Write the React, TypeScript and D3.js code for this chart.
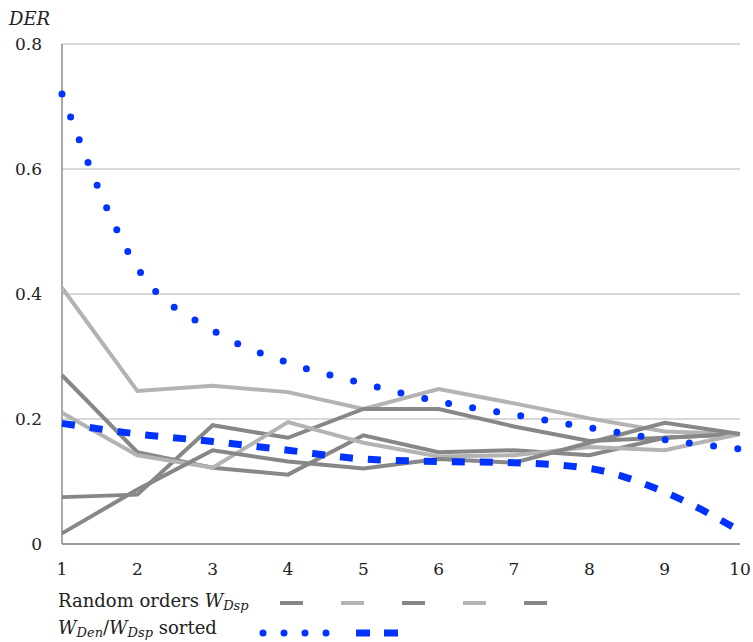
import React from "react";
import * as d3 from "d3";

// x positions (number of steps)
const steps = [1, 2, 3, 4, 5, 6, 7, 8, 9, 10];

// random orders W_Dsp (five runs)
const randomRun1 = [0.27, 0.147, 0.122, 0.111, 0.174, 0.147, 0.15, 0.142, 0.17, 0.176];
const randomRun2 = [0.41, 0.245, 0.253, 0.243, 0.216, 0.248, 0.225, 0.201, 0.18, 0.176];
const randomRun3 = [0.075, 0.079, 0.19, 0.17, 0.216, 0.216, 0.188, 0.165, 0.17, 0.176];
const randomRun4 = [0.21, 0.142, 0.122, 0.195, 0.162, 0.14, 0.142, 0.155, 0.15, 0.176];
const randomRun5 = [0.017, 0.087, 0.15, 0.132, 0.121, 0.136, 0.13, 0.162, 0.194, 0.176];

// sorted orders
const sortedDen = [0.72, 0.442, 0.342, 0.29, 0.257, 0.228, 0.207, 0.186, 0.167, 0.152];
const sortedDsp = [0.193, 0.176, 0.164, 0.15, 0.136, 0.132, 0.13, 0.121, 0.083, 0.021];

const yTicks = [0, 0.2, 0.4, 0.6, 0.8];
const yTickLabels = ["0", "0.2", "0.4", "0.6", "0.8"];
const xTickLabels = ["1", "2", "3", "4", "5", "6", "7", "8", "9", "10"];

const DARK = "#878787";
const LIGHT = "#b3b3b3";
const BLUE = "#0033ff";
const FONT = "'DejaVu Serif', serif";

const randomRuns = [
  { values: randomRun1, color: DARK },
  { values: randomRun2, color: LIGHT },
  { values: randomRun3, color: DARK },
  { values: randomRun4, color: LIGHT },
  { values: randomRun5, color: DARK },
];

export default function App() {
  const width = 753;
  const height = 642;

  const x = d3.scaleLinear().domain([1, 10]).range([62, 740]);
  const y = d3.scaleLinear().domain([0, 0.8]).range([544, 44]);

  const straight = d3
    .line<number>()
    .x((_, i) => x(steps[i]))
    .y((d) => y(d));

  const smooth = d3
    .line<number>()
    .x((_, i) => x(steps[i]))
    .y((d) => y(d))
    .curve(d3.curveMonotoneX);

  return (
    <svg
      width={width}
      height={height}
      style={{ position: "absolute", left: 0, top: 0, background: "#fff" }}
      fontFamily={FONT}
    >
      {/* grid */}
      {yTicks.slice(1).map((t) => (
        <line key={t} x1={x(1)} x2={x(10)} y1={y(t)} y2={y(t)} stroke={LIGHT} strokeWidth={1.2} />
      ))}
      {/* axes */}
      <line x1={x(1)} x2={x(1)} y1={y(0.8)} y2={y(0)} stroke="#7a7a7a" strokeWidth={1.3} />
      <line x1={x(1)} x2={x(10)} y1={y(0)} y2={y(0)} stroke="#7a7a7a" strokeWidth={1.3} />

      {yTicks.map((t, i) => (
        <text key={t} x={42} y={y(t) + 6} textAnchor="end" fontSize={17} fill="#222">
          {yTickLabels[i]}
        </text>
      ))}
      {steps.map((s, i) => (
        <text key={s} x={x(s)} y={575} textAnchor="middle" fontSize={17} fill="#222">
          {xTickLabels[i]}
        </text>
      ))}
      <text x={9} y={25} fontSize={18} fontStyle="italic" fill="#222">
        DER
      </text>

      {/* random orders */}
      {randomRuns.map((r, i) => (
        <path key={i} d={straight(r.values) ?? ""} fill="none" stroke={r.color} strokeWidth={4} />
      ))}

      {/* sorted */}
      <path
        d={smooth(sortedDsp) ?? ""}
        fill="none"
        stroke={BLUE}
        strokeWidth={7}
        strokeDasharray="13 15"
      />
      <path
        d={smooth(sortedDen) ?? ""}
        fill="none"
        stroke={BLUE}
        strokeWidth={7}
        strokeLinecap="round"
        strokeDasharray="0 24.4"
      />

      {/* legend */}
      <text x={58} y={607} fontSize={18} fill="#222">
        Random orders{" "}
        <tspan fontStyle="italic">W</tspan>
        <tspan fontStyle="italic" fontSize={13} dy={3}>
          Dsp
        </tspan>
      </text>
      {randomRuns.map((r, i) => (
        <line
          key={i}
          x1={280 + i * 61}
          x2={303 + i * 61}
          y1={603}
          y2={603}
          stroke={r.color}
          strokeWidth={4}
        />
      ))}
      <text x={58} y={634} fontSize={18} fill="#222">
        <tspan fontStyle="italic">W</tspan>
        <tspan fontStyle="italic" fontSize={13} dy={3}>
          Den
        </tspan>
        <tspan dy={-3}>/</tspan>
        <tspan fontStyle="italic">W</tspan>
        <tspan fontStyle="italic" fontSize={13} dy={3}>
          Dsp
        </tspan>
        <tspan dy={-3}> sorted</tspan>
      </text>
      <path
        d="M263,633 L330,633"
        fill="none"
        stroke={BLUE}
        strokeWidth={7}
        strokeLinecap="round"
        strokeDasharray="0 21"
      />
      <path d="M356,633 L398,633" fill="none" stroke={BLUE} strokeWidth={7} strokeDasharray="14 14" />
    </svg>
  );
}
